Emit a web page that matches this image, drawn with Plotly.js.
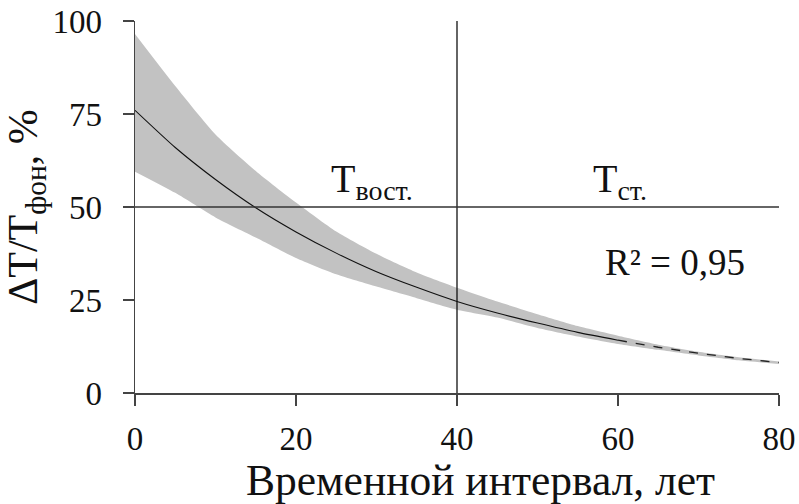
<!DOCTYPE html>
<html>
<head>
<meta charset="utf-8">
<script src="https://cdn.plot.ly/plotly-3.0.1.min.js"></script>
<style>html,body{margin:0;padding:0;background:#fff;}#chart{width:799px;height:504px;}</style>
</head>
<body>
<div id="chart"></div>
<script>
// Data
const years = [0, 5, 10, 15, 20, 25, 30, 35, 40, 45, 50, 55, 60, 65, 70, 75, 80];
const fitValues = [76, 66, 57.4, 49.8, 43.3, 37.6, 32.6, 28.4, 24.6, 21.5, 18.8, 16.3, 14.2, 12.3, 10.7, 9.3, 8.2];
const upperBand = [96.5, 82.5, 69.5, 59.7, 51.2, 43.4, 37.4, 32.4, 28.3, 24.6, 21.2, 18.0, 15.4, 13.0, 11.1, 9.6, 8.5];
const lowerBand = [59.5, 53.8, 47.2, 41.8, 36.3, 31.9, 28.6, 25.5, 22.4, 20.3, 17.5, 15.2, 13.2, 11.6, 10.1, 8.8, 7.8];
const xTicks = [0, 20, 40, 60, 80];
const yTicks = [0, 25, 50, 75, 100];
const thresholdYear = 40;
const thresholdLevel = 50;
const xTitle = 'Временной интервал, лет';
const yTitle = 'ΔT/T<sub>фон</sub>, %';
const r2Label = 'R\u00B2 = 0,95';

const solidEnd = years.indexOf(60) + 1;
const FONT = "'Liberation Serif', 'DejaVu Serif', Times, serif";

const traces = [
  {x: years, y: upperBand, type: 'scatter', mode: 'lines', line: {width: 0, color: '#c2c2c2', shape: 'spline', smoothing: 0.6}, hoverinfo: 'skip', showlegend: false},
  {x: years, y: lowerBand, type: 'scatter', mode: 'lines', fill: 'tonexty', fillcolor: '#c2c2c2', line: {width: 0, color: '#c2c2c2', shape: 'spline', smoothing: 0.6}, hoverinfo: 'skip', showlegend: false},
  {x: years.slice(0, solidEnd), y: fitValues.slice(0, solidEnd), type: 'scatter', mode: 'lines', line: {color: '#111', width: 1.1, shape: 'spline', smoothing: 0.6}, showlegend: false},
  {x: years.slice(solidEnd - 1), y: fitValues.slice(solidEnd - 1), type: 'scatter', mode: 'lines', line: {color: '#222', width: 1.3, dash: 'dash'}, showlegend: false}
];

const axisCommon = {
  showgrid: false, zeroline: false, showline: true, linecolor: '#444', linewidth: 1.5,
  ticks: 'outside', ticklen: 11, tickwidth: 1.5, tickcolor: '#444',
  tickfont: {family: FONT, size: 33, color: '#111'}
};

const layout = {
  width: 799, height: 504,
  margin: {l: 135, r: 20, t: 21, b: 111},
  paper_bgcolor: '#fff', plot_bgcolor: '#fff',
  font: {family: FONT, color: '#111'},
  xaxis: Object.assign({}, axisCommon, {
    range: [0, 80], tickvals: xTicks, ticktext: xTicks.map(String), ticklabelstandoff: 5
  }),
  yaxis: Object.assign({}, axisCommon, {
    range: [0, 100], tickvals: yTicks, ticktext: yTicks.map(String), ticklabelstandoff: 14,
    title: {text: yTitle, font: {family: FONT, size: 42, color: '#111'}, standoff: 2}
  }),
  shapes: [
    {type: 'line', xref: 'x', yref: 'y', x0: thresholdYear, x1: thresholdYear, y0: 0, y1: 100, line: {color: '#111', width: 1.3}},
    {type: 'line', xref: 'x', yref: 'y', x0: 0, x1: 80, y0: thresholdLevel, y1: thresholdLevel, line: {color: '#333', width: 1.5}}
  ],
  annotations: [
    {x: 29.4, y: 57, xref: 'x', yref: 'y', text: 'T<sub>вост.</sub>', showarrow: false, font: {family: FONT, size: 40, color: '#111'}},
    {x: 60.3, y: 57, xref: 'x', yref: 'y', text: 'T<sub>ст.</sub>', showarrow: false, font: {family: FONT, size: 40, color: '#111'}},
    {x: 67.1, y: 35, xref: 'x', yref: 'y', text: r2Label, showarrow: false, font: {family: FONT, size: 37, color: '#111'}},
    {x: 0.536, y: -0.233, xref: 'paper', yref: 'paper', xanchor: 'center', yanchor: 'middle', text: xTitle, showarrow: false, font: {family: FONT, size: 43.5, color: '#111'}}
  ]
};

Plotly.newPlot('chart', traces, layout, {staticPlot: true, displayModeBar: false});
</script>
</body>
</html>
